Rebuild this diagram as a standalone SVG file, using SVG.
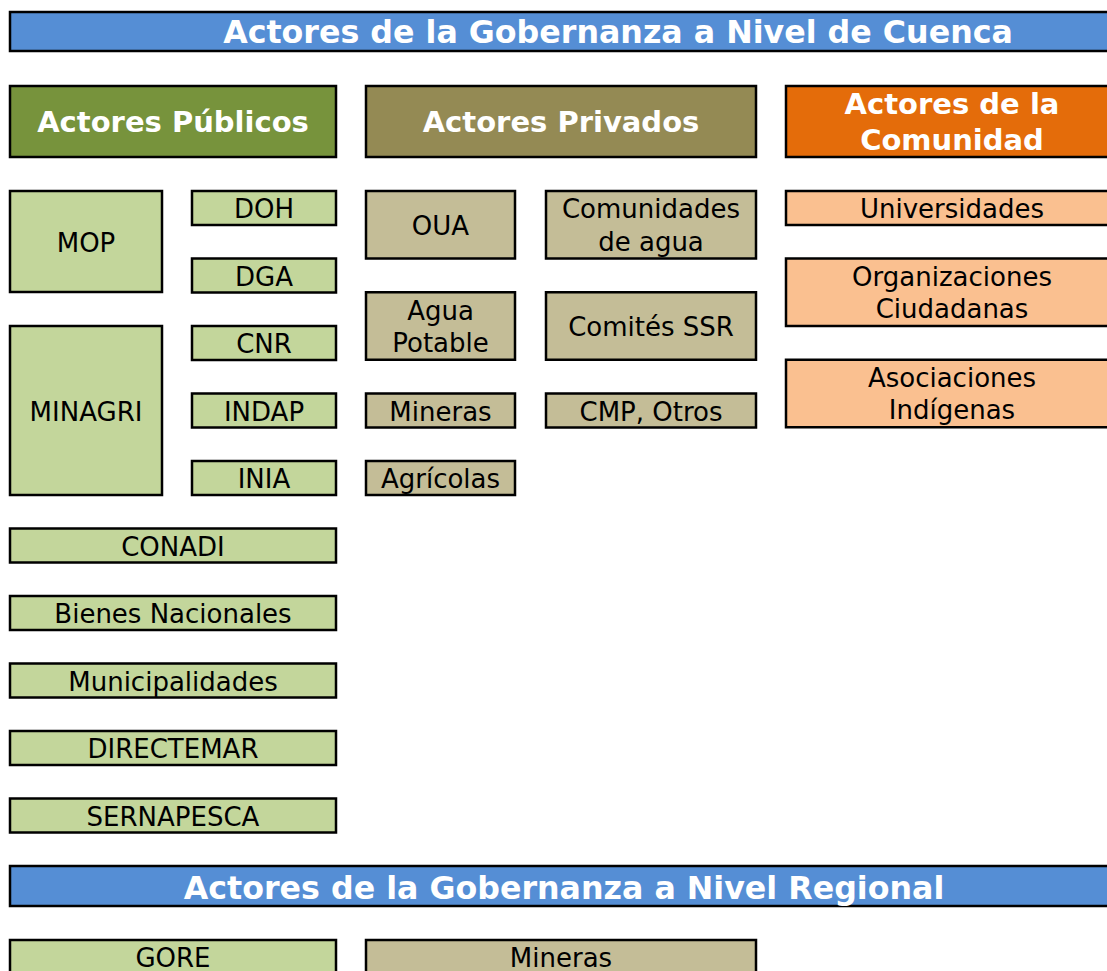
<svg xmlns="http://www.w3.org/2000/svg" width="1107" height="971" viewBox="0 0 1107 971">
<style>
.n rect{stroke:#000;stroke-width:2.5}
text{font-family:"DejaVu Sans","Verdana",sans-serif;font-size:26px;fill:#000;text-anchor:middle}
.bar{fill:#558ED5}
.hdr{font-weight:bold;font-size:29px;fill:#fff}
.ttl{font-weight:bold;font-size:31.7px;fill:#fff}
.pubh{fill:#77933C}.prih{fill:#948A54}.comh{fill:#E46C0A}
.pub{fill:#C3D69B}.pri{fill:#C4BD97}.com{fill:#FAC090}
</style>
<rect width="1107" height="971" fill="#fff"/>
<g id="title-cuenca" class="n"><rect class="bar" x="10" y="12" width="1218" height="39"/><text class="ttl" x="618" y="43">Actores de la Gobernanza a Nivel de Cuenca</text></g>
<g id="hdr-publicos" class="n"><rect class="pubh" x="10" y="86" width="326" height="71"/><text class="hdr" x="173" y="132">Actores Públicos</text></g>
<g id="hdr-privados" class="n"><rect class="prih" x="366" y="86" width="390" height="71"/><text class="hdr" x="561" y="132">Actores Privados</text></g>
<g id="hdr-comunidad" class="n"><rect class="comh" x="786" y="86" width="332" height="71"/><text class="hdr" x="952" y="114">Actores de la</text><text class="hdr" x="952" y="150">Comunidad</text></g>

<g id="mop" class="n"><rect class="pub" x="10" y="191" width="152" height="101"/><text x="86" y="252">MOP</text></g>
<g id="doh" class="n"><rect class="pub" x="192" y="191" width="144" height="34"/><text x="264" y="218">DOH</text></g>
<g id="dga" class="n"><rect class="pub" x="192" y="258.5" width="144" height="34"/><text x="264" y="286">DGA</text></g>
<g id="minagri" class="n"><rect class="pub" x="10" y="326" width="152" height="169"/><text x="86" y="421">MINAGRI</text></g>
<g id="cnr" class="n"><rect class="pub" x="192" y="326" width="144" height="34"/><text x="264" y="353">CNR</text></g>
<g id="indap" class="n"><rect class="pub" x="192" y="393.5" width="144" height="34"/><text x="264" y="421">INDAP</text></g>
<g id="inia" class="n"><rect class="pub" x="192" y="461" width="144" height="34"/><text x="264" y="488">INIA</text></g>
<g id="conadi" class="n"><rect class="pub" x="10" y="528.5" width="326" height="34"/><text x="173" y="556">CONADI</text></g>
<g id="bienes" class="n"><rect class="pub" x="10" y="596" width="326" height="34"/><text x="173" y="623">Bienes Nacionales</text></g>
<g id="municipalidades" class="n"><rect class="pub" x="10" y="663.5" width="326" height="34"/><text x="173" y="691">Municipalidades</text></g>
<g id="directemar" class="n"><rect class="pub" x="10" y="731" width="326" height="34"/><text x="173" y="758">DIRECTEMAR</text></g>
<g id="sernapesca" class="n"><rect class="pub" x="10" y="798.5" width="326" height="34"/><text x="173" y="826">SERNAPESCA</text></g>

<g id="oua" class="n"><rect class="pri" x="366" y="191" width="149" height="67.5"/><text x="440.5" y="235">OUA</text></g>
<g id="agua-potable" class="n"><rect class="pri" x="366" y="292.25" width="149" height="67.5"/><text x="440.5" y="320">Agua</text><text x="440.5" y="352">Potable</text></g>
<g id="mineras" class="n"><rect class="pri" x="366" y="393.5" width="149" height="34"/><text x="440.5" y="421">Mineras</text></g>
<g id="agricolas" class="n"><rect class="pri" x="366" y="461" width="149" height="34"/><text x="440.5" y="488">Agrícolas</text></g>
<g id="comunidades-agua" class="n"><rect class="pri" x="546" y="191" width="210" height="67.5"/><text x="651" y="218">Comunidades</text><text x="651" y="251">de agua</text></g>
<g id="comites-ssr" class="n"><rect class="pri" x="546" y="292.25" width="210" height="67.5"/><text x="651" y="336">Comités SSR</text></g>
<g id="cmp-otros" class="n"><rect class="pri" x="546" y="393.5" width="210" height="34"/><text x="651" y="421">CMP, Otros</text></g>

<g id="universidades" class="n"><rect class="com" x="786" y="191" width="332" height="34"/><text x="952" y="218">Universidades</text></g>
<g id="org-ciudadanas" class="n"><rect class="com" x="786" y="258.5" width="332" height="67.5"/><text x="952" y="286">Organizaciones</text><text x="952" y="318">Ciudadanas</text></g>
<g id="asoc-indigenas" class="n"><rect class="com" x="786" y="359.75" width="332" height="67.5"/><text x="952" y="387">Asociaciones</text><text x="952" y="419">Indígenas</text></g>

<g id="title-regional" class="n"><rect class="bar" x="10" y="866" width="1110" height="40"/><text class="ttl" x="564" y="899">Actores de la Gobernanza a Nivel Regional</text></g>
<g id="gore" class="n"><rect class="pub" x="10" y="940" width="326" height="50"/><text x="173" y="967">GORE</text></g>
<g id="mineras-regional" class="n"><rect class="pri" x="366" y="940" width="390" height="50"/><text x="561" y="967">Mineras</text></g>
<g id="connectors"/>
</svg>
